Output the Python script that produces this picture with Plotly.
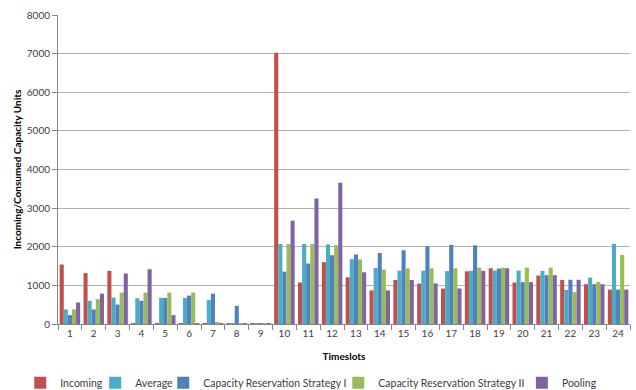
import plotly.graph_objects as go

timeslots = [str(i) for i in range(1, 25)]

incoming = [1540, 1316, 1376, 20, 20, 20, 20, 20, 15, 7020, 1075, 1600,
            1210, 870, 1140, 1046, 917, 1365, 1445, 1075, 1255, 1140, 1030, 890]
average = [376, 600, 684, 667, 680, 675, 620, 20, 15, 2070, 2070, 2060,
           1680, 1450, 1380, 1380, 1370, 1380, 1385, 1385, 1375, 880, 1200, 2075]
crs1 = [230, 376, 504, 600, 675, 735, 786, 470, 15, 1355, 1565, 1780,
        1800, 1840, 1910, 2010, 2050, 2035, 1435, 1085, 1265, 1145, 1030, 890]
crs2 = [376, 641, 812, 812, 812, 812, 30, 15, 15, 2070, 2070, 2040,
        1670, 1410, 1440, 1440, 1440, 1460, 1460, 1460, 1460, 825, 1090, 1790]
pooling = [556, 786, 1308, 1419, 230, 20, 20, 20, 15, 2675, 3250, 3660,
           1340, 870, 1140, 1050, 920, 1375, 1445, 1085, 1265, 1145, 1030, 890]

series_names = ["Incoming", "Average", "Capacity Reservation Strategy I",
                "Capacity Reservation Strategy II", "Pooling"]
series_values = [incoming, average, crs1, crs2, pooling]
series_colors = ["#C0504D", "#4BACC6", "#4F81BD", "#9BBB59", "#8064A2"]
legend_ids = ["legend", "legend2", "legend3", "legend4", "legend5"]
legend_x = [-0.066, 0.065, 0.184, 0.49, 0.811]

fig = go.Figure()
for name, vals, col, lid in zip(series_names, series_values, series_colors, legend_ids):
    fig.add_trace(go.Bar(x=timeslots, y=vals, name=name, marker_color=col,
                         marker_line_width=0, legend=lid))

font_fam = "Lato, Open Sans, sans-serif"
legend_layout = {}
for lid, lx in zip(legend_ids, legend_x):
    legend_layout[lid] = dict(orientation="h", x=lx, xanchor="left", y=-0.19,
                              yanchor="middle",
                              font=dict(family=font_fam, size=10.5, color="#404040"),
                              itemwidth=30, bgcolor="rgba(0,0,0,0)")

fig.update_layout(
    width=636, height=390,
    margin=dict(l=58, r=6, t=15, b=66, autoexpand=False),
    plot_bgcolor="white", paper_bgcolor="white",
    barmode="group", bargap=0.14, bargroupgap=0.0,
    font=dict(family=font_fam, size=10, color="#404040"),
    showlegend=True,
    xaxis=dict(
        type="category", showgrid=False, showline=True, linecolor="#868686",
        ticks="outside", tickson="boundaries", ticklen=5, tickcolor="#868686",
        tickfont=dict(size=10, color="#404040"),
        title=dict(text="<b>Timeslots</b>", font=dict(size=10, color="#000000"),
                   standoff=14),
    ),
    yaxis=dict(
        range=[0, 8000], dtick=1000, showgrid=True, gridcolor="#B3B3B3", gridwidth=1,
        showline=True, linecolor="#868686", ticks="outside", ticklen=5,
        tickcolor="#868686", zeroline=False,
        tickfont=dict(size=10, color="#404040"),
        title=dict(text="<b>Incoming/Consumed Capacity Units</b>",
                   font=dict(size=10, color="#000000"), standoff=3),
    ),
    **legend_layout,
)

fig.write_html("out.html")
